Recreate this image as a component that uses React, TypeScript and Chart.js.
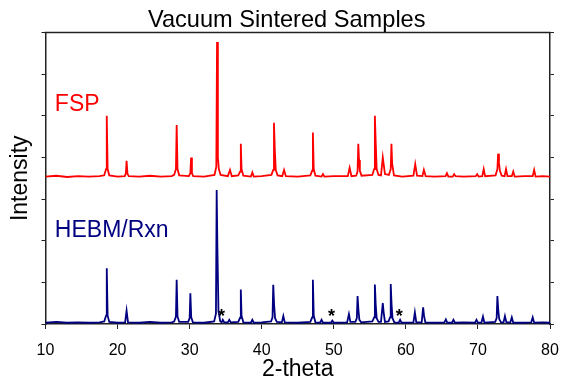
import { useEffect, useRef } from 'react';
import { Chart, registerables } from 'chart.js';

Chart.register(...registerables);

// ---- Data (2-theta in degrees, intensity in arbitrary counts) ----
const xTickStart = 10;
const xTickEnd = 80;
const xTickStep = 10;
const yTickStep = 100;
const yMax = 700;

const fspPattern: [number, number][] = [
  [10, 354], [11.5, 356], [13, 353], [14.5, 355], [16, 354], [17.5, 355],
  [18.15, 357], [18.4, 372], [18.5, 500], [18.62, 372], [18.85, 357],
  [20.0, 354], [21.0, 355], [21.15, 362], [21.25, 392], [21.37, 361], [21.55, 355],
  [23, 354], [24.5, 356], [26, 354], [27.5, 355],
  [27.85, 358], [28.1, 372], [28.2, 478], [28.32, 372], [28.55, 357],
  [29.9, 355], [30.1, 362], [30.2, 400], [30.32, 362], [30.5, 355],
  [32, 354], [33.45, 358], [33.7, 378], [33.8, 677], [33.92, 400], [34.05, 372], [34.3, 358],
  [35.3, 355], [35.6, 370], [35.85, 355],
  [36.75, 357], [37.0, 366], [37.1, 433], [37.2, 372], [37.45, 356],
  [38.5, 354], [38.7, 364], [38.9, 354],
  [40, 355], [41.35, 358], [41.6, 370], [41.7, 483], [41.82, 418], [41.95, 370], [42.2, 357],
  [42.85, 355], [43.1, 370], [43.35, 355],
  [45, 354], [46.75, 357], [47.0, 368], [47.1, 460], [47.22, 372], [47.45, 356],
  [48.3, 354], [48.5, 360], [48.7, 354],
  [50, 355], [51.95, 355], [52.2, 375], [52.45, 355],
  [53.1, 356], [53.3, 366], [53.4, 433], [53.5, 394], [53.62, 368], [53.85, 356],
  [55.35, 358], [55.6, 372], [55.7, 500], [55.82, 435], [55.95, 372], [56.2, 358],
  [56.55, 357], [56.8, 400], [56.95, 380], [57.1, 360],
  [57.65, 358], [57.9, 372], [58.0, 433], [58.1, 385], [58.35, 357],
  [59.5, 354], [61.05, 356], [61.3, 384], [61.55, 356],
  [62.3, 355], [62.5, 370], [62.75, 355],
  [64, 354], [65.5, 355], [65.7, 362], [65.9, 354],
  [66.5, 354], [66.7, 360], [66.9, 355],
  [68, 354], [69.7, 355], [69.9, 360], [70.1, 354],
  [70.6, 355], [70.8, 372], [71.0, 355],
  [72.45, 357], [72.7, 372], [72.8, 409], [72.92, 387], [73.05, 368], [73.3, 356],
  [73.7, 355], [73.9, 372], [74.1, 355],
  [74.7, 355], [74.9, 366], [75.1, 354],
  [76.5, 355], [77.6, 355], [77.8, 370], [78.0, 354],
  [79, 355], [80, 354],
];

const hebmPattern: [number, number][] = [
  [10, 3], [11.5, 5], [13, 3], [14.5, 4], [16, 3], [17.5, 4],
  [18.15, 6], [18.4, 20], [18.5, 134], [18.62, 20], [18.85, 5],
  [20, 3], [21.05, 4], [21.25, 32], [21.45, 4],
  [23, 3], [24.5, 5], [26, 3], [27.5, 4],
  [27.85, 6], [28.1, 18], [28.2, 106], [28.32, 18], [28.55, 5],
  [29.8, 5], [30.0, 14], [30.1, 74], [30.22, 16], [30.45, 4],
  [32, 3], [33.4, 6], [33.65, 25], [33.75, 322], [33.85, 186], [34.0, 30], [34.25, 6],
  [34.45, 4], [34.6, 10], [34.8, 4], [35.3, 4], [35.5, 10], [35.7, 4],
  [36.75, 5], [37.0, 15], [37.1, 83], [37.2, 20], [37.45, 4],
  [38.5, 3], [38.7, 10], [38.9, 3],
  [40, 4], [41.3, 6], [41.5, 16], [41.6, 94], [41.72, 46], [41.85, 14], [42.1, 5],
  [42.8, 4], [43.0, 19], [43.2, 4],
  [45, 3], [46.75, 5], [47.0, 16], [47.1, 106], [47.22, 20], [47.45, 4],
  [48.1, 3], [48.3, 10], [48.5, 3],
  [49.6, 3], [49.8, 8], [50.0, 3],
  [51.85, 4], [52.1, 24], [52.3, 5],
  [53.0, 5], [53.2, 14], [53.3, 67], [53.42, 34], [53.55, 10], [53.8, 4],
  [55.35, 6], [55.6, 16], [55.7, 95], [55.82, 46], [55.95, 14], [56.2, 5],
  [56.55, 5], [56.8, 50], [56.92, 28], [57.1, 5],
  [57.6, 6], [57.8, 16], [57.9, 96], [58.02, 46], [58.15, 14], [58.4, 4],
  [59.0, 3], [59.2, 10], [59.4, 3],
  [61.05, 4], [61.25, 28], [61.45, 4],
  [62.2, 4], [62.4, 40], [62.52, 20], [62.7, 4],
  [64, 3], [65.35, 4], [65.55, 11], [65.75, 3],
  [66.4, 3], [66.6, 10], [66.8, 3],
  [68, 4], [69.6, 3], [69.8, 10], [70.0, 3],
  [70.5, 4], [70.7, 18], [70.9, 3],
  [72.4, 5], [72.6, 14], [72.7, 67], [72.82, 34], [72.95, 12], [73.2, 4],
  [73.55, 4], [73.75, 19], [73.95, 4],
  [74.5, 4], [74.7, 16], [74.9, 3],
  [76, 3], [77.4, 4], [77.6, 16], [77.8, 3],
  [79, 4], [80, 3],
];

const chartTitle = 'Vacuum Sintered Samples';
const seriesNames = ['FSP', 'HEBM/Rxn'];
const seriesColors = ['#ff0000', '#000080'];
const impurityPeaks = [34.42, 49.7, 59.1];

const FONT = '"Liberation Sans", Arial, Helvetica, sans-serif';
const AXIS = '#222222';

// anchors for the in-plot text (2-theta, intensity)
const labelAnchors: [number, number][] = [
  [11.3, 512],
  [11.3, 208],
];

const annotatePlugin = {
  id: 'annotate',
  afterDraw(chart: any) {
    const { ctx, chartArea, scales } = chart;
    const xs = scales.x;
    const ys = scales.y;
    ctx.save();
    // top frame line
    ctx.strokeStyle = AXIS;
    ctx.lineWidth = 1.5;
    ctx.beginPath();
    ctx.moveTo(chartArea.left - 0.75, chartArea.top);
    ctx.lineTo(chartArea.right + 0.75, chartArea.top);
    ctx.stroke();
    // title (slightly left of the plot centre, as in the original)
    ctx.font = `23.6px ${FONT}`;
    ctx.textAlign = 'center';
    ctx.textBaseline = 'alphabetic';
    ctx.fillStyle = '#000000';
    ctx.fillText(chartTitle, (chartArea.left + chartArea.right) / 2 - 11, chartArea.top - 5.3);
    // series labels
    ctx.font = `23px ${FONT}`;
    ctx.textAlign = 'left';
    seriesNames.forEach((name, i) => {
      ctx.fillStyle = seriesColors[i];
      ctx.fillText(name, xs.getPixelForValue(labelAnchors[i][0]), ys.getPixelForValue(labelAnchors[i][1]));
    });
    // impurity asterisks
    ctx.font = `bold 18px ${FONT}`;
    ctx.textAlign = 'center';
    ctx.fillStyle = '#000000';
    impurityPeaks.forEach((t) => {
      ctx.fillText('*', xs.getPixelForValue(t), ys.getPixelForValue(0) - 2);
    });
    ctx.restore();
  },
};

export default function App() {
  const canvasRef = useRef<HTMLCanvasElement | null>(null);

  useEffect(() => {
    if (!canvasRef.current) return;
    Chart.defaults.font.family = FONT;
    Chart.defaults.color = '#000000';
    const chart = new Chart(canvasRef.current, {
      type: 'line',
      data: {
        datasets: [
          {
            label: seriesNames[0],
            data: fspPattern.map(([x, y]) => ({ x, y })),
            borderColor: seriesColors[0],
            backgroundColor: seriesColors[0],
            borderWidth: 1.8,
            pointRadius: 0,
            tension: 0,
          },
          {
            label: seriesNames[1],
            data: hebmPattern.map(([x, y]) => ({ x, y })),
            borderColor: seriesColors[1],
            backgroundColor: seriesColors[1],
            borderWidth: 1.8,
            pointRadius: 0,
            tension: 0,
          },
        ],
      },
      options: {
        responsive: false,
        animation: false,
        events: [],
        layout: { padding: { top: 32.5, left: 0, right: 0, bottom: 0 } },
        plugins: {
          legend: { display: false },
          tooltip: { enabled: false },
          title: { display: false },
        },
        scales: {
          x: {
            type: 'linear',
            min: xTickStart,
            max: xTickEnd,
            ticks: {
              stepSize: xTickStep,
              color: '#000000',
              font: { size: 16 },
              padding: 12,
              maxRotation: 0,
              autoSkip: false,
            },
            grid: { drawOnChartArea: false, drawTicks: true, tickLength: 5, color: AXIS, lineWidth: 1 },
            border: { display: true, color: AXIS, width: 1.5 },
            title: {
              display: true,
              text: '2-theta',
              color: '#000000',
              font: { size: 23 },
              padding: { top: 0, bottom: 3 },
            },
            afterFit: (s: any) => {
              s.height = 62;
              s.paddingLeft = 0;
              s.paddingRight = 0;
            },
          },
          y: {
            type: 'linear',
            position: 'left',
            min: 0,
            max: yMax,
            ticks: { stepSize: yTickStep, display: false },
            grid: { drawOnChartArea: false, drawTicks: true, tickLength: 4, color: AXIS, lineWidth: 1 },
            border: { display: true, color: AXIS, width: 1.5 },
            title: {
              display: true,
              text: 'Intensity',
              color: '#000000',
              font: { size: 23 },
              padding: { top: 7, bottom: 0 },
            },
            afterFit: (s: any) => {
              s.width = 45.5;
            },
          },
          y2: {
            type: 'linear',
            position: 'right',
            min: 0,
            max: yMax,
            ticks: { stepSize: yTickStep, display: false },
            grid: { drawOnChartArea: false, drawTicks: true, tickLength: 4, color: AXIS, lineWidth: 1 },
            border: { display: true, color: AXIS, width: 1.5 },
            afterFit: (s: any) => {
              s.width = 12;
            },
          },
        },
      },
      plugins: [annotatePlugin],
    });
    return () => chart.destroy();
  }, []);

  return (
    <div style={{ position: 'absolute', left: 0, top: 0, width: 562, height: 386, background: '#ffffff' }}>
      <canvas ref={canvasRef} width={562} height={386} style={{ display: 'block' }} />
    </div>
  );
}
